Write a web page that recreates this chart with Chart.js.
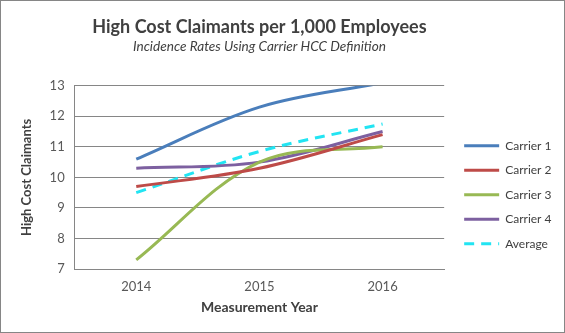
<!DOCTYPE html>
<html>
<head>
<meta charset="utf-8">
<script src="https://cdn.jsdelivr.net/npm/chart.js@4.4.1/dist/chart.umd.min.js"></script>
<style>
  html, body { margin: 0; padding: 0; background: #fff; }
</style>
</head>
<body>
<canvas id="hccChart" width="565" height="333"></canvas>
<script>
// chart data
const years = ['2014', '2015', '2016'];
const carrier1 = [10.6, 12.3, 13.1];
const carrier2 = [9.7, 10.3, 11.4];
const carrier3 = [7.3, 10.5, 11.0];
const carrier4 = [10.3, 10.5, 11.5];
const average = [9.5, 10.85, 11.75];
const yTicks = [7, 8, 9, 10, 11, 12, 13];

// outer grey frame like the spreadsheet chart
const framePlugin = {
    id: 'frame',
    afterDraw(chart) {
        const c = chart.ctx;
        c.save();
        c.strokeStyle = '#868686';
        c.lineWidth = 1;
        c.strokeRect(0.5, 0.5, chart.width - 1, chart.height - 1);
        c.restore();
    }
};

// nudge the legend block to where it sits in the original
const legendShift = {
    id: 'legendShift',
    afterLayout(chart) {
        const dx = 7.5, dy = 37;
        chart.legend.left += dx;
        chart.legend.right += dx;
        chart.legend.top += dy;
        chart.legend.bottom += dy;
    }
};

function line(label, data, color, dash) {
    return {
        label: label,
        data: data,
        borderColor: color,
        backgroundColor: color,
        borderWidth: 3,
        borderDash: dash || [],
        pointRadius: 0,
        tension: 0.35,
        fill: false
    };
}

Chart.defaults.font.family = 'Lato, "Open Sans", sans-serif';

const ctx = document.getElementById('hccChart').getContext('2d');
const hccChart = new Chart(ctx, {
    type: 'line',
    data: {
        labels: years,
        datasets: [
            line('Carrier 1', carrier1, '#4A7EBB'),
            line('Carrier 2', carrier2, '#BE4B48'),
            line('Carrier 3', carrier3, '#98B954'),
            line('Carrier 4', carrier4, '#7D60A0'),
            line('Average', average, '#22E4F2', [10, 7])
        ]
    },
    options: {
        responsive: false,
        animation: false,
        devicePixelRatio: 1,
        layout: {
            padding: { left: 14, right: 11, top: 0, bottom: 17.5 }
        },
        plugins: {
            title: {
                display: true,
                fullSize: false,
                text: 'High Cost Claimants per 1,000 Employees',
                color: '#404040',
                font: { size: 18, weight: 'bold' },
                padding: { top: 16, bottom: 1 }
            },
            subtitle: {
                display: true,
                fullSize: false,
                text: 'Incidence Rates Using Carrier HCC Definition',
                color: '#404040',
                font: { size: 13.6, style: 'italic' },
                padding: { top: 0, bottom: 30.8 }
            },
            legend: {
                position: 'right',
                labels: {
                    usePointStyle: true,
                    pointStyle: 'line',
                    pointStyleWidth: 35,
                    color: '#404040',
                    font: { size: 12 },
                    padding: 12.5,
                    generateLabels(chart) {
                        const items = Chart.defaults.plugins.legend.labels.generateLabels(chart);
                        items.forEach(item => {
                            const ds = chart.data.datasets[item.datasetIndex];
                            item.lineDash = ds.borderDash;
                            item.lineWidth = ds.borderWidth;
                        });
                        return items;
                    }
                }
            },
            tooltip: { enabled: false }
        },
        scales: {
            x: {
                offset: true,
                grid: { display: false, drawTicks: false },
                border: { display: true, color: '#868686' },
                ticks: { color: '#595959', font: { size: 13 }, padding: 10 },
                title: {
                    display: true,
                    text: 'Measurement Year',
                    color: '#404040',
                    font: { size: 14, weight: 'bold' },
                    padding: { top: -6, bottom: 0 }
                }
            },
            y: {
                min: 7,
                max: 13,
                afterBuildTicks(scale) {
                    scale.ticks = yTicks.map(v => ({ value: v }));
                },
                grid: { color: '#868686', drawTicks: false },
                border: { display: true, color: '#868686' },
                ticks: { color: '#595959', font: { size: 13 }, padding: 10 },
                title: {
                    display: true,
                    text: 'High Cost Claimants',
                    color: '#404040',
                    font: { size: 13, weight: 'bold' },
                    padding: { top: 5, bottom: 5 }
                }
            }
        }
    },
    plugins: [framePlugin, legendShift]
});
</script>
</body>
</html>
